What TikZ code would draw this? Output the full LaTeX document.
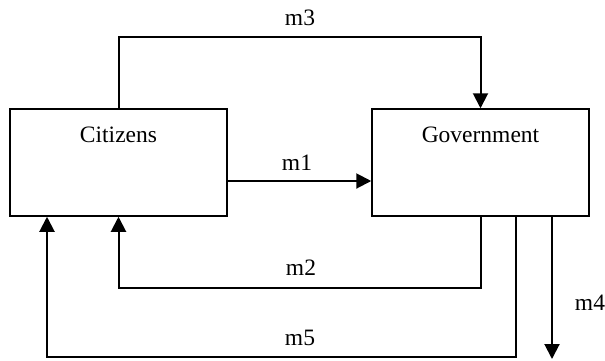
\documentclass[tikz,border=0pt]{standalone}
\usepackage{fontspec}
\setmainfont{Liberation Serif}
\usetikzlibrary{arrows.meta,calc}
\begin{document}
\begin{tikzpicture}[x=1pt,y=-1pt,
  box/.style={draw,line width=1.5pt,minimum width=217pt,minimum height=107pt,inner sep=0pt},
  txt/.style={font=\fontsize{23.5}{26}\selectfont,inner sep=0pt},
  flow/.style={line width=2pt,-{Triangle[length=15pt,width=15pt]}},
  plain/.style={line width=2pt}]
\useasboundingbox (0,0) rectangle (605,360);
\node[box] (cit) at (118.5,162.5) {};
\node[box] (gov) at (480.5,162.5) {};
\node[txt] (citT) at (118.5,135) {Citizens};
\node[txt] (govT) at (480.5,135) {Government};
% m1
\coordinate (m1a) at (cit.east |- 0,181);
\coordinate (m1b) at (gov.west |- 0,181);
\draw[flow] (m1a) -- (m1b);
\node[txt] (l1) at (297,163) {m1};
% m3
\draw[flow] (cit.north) |- (300,37) -| (gov.north);
\node[txt] (l3) at (300,18) {m3};
% m2
\draw[flow] (gov.south) |- (300,288) -| (cit.south);
\node[txt] (l2) at (301,268) {m2};
% m5
\coordinate (m5a) at (gov.south -| 516,0);
\coordinate (m5b) at (cit.south -| 47,0);
\draw[flow] (m5a) |- (300,357) -| (m5b);
\node[txt] (l5) at (300,338) {m5};
% m4
\coordinate (m4a) at (gov.south -| 552,0);
\coordinate (m4b) at (552,359);
\draw[flow] (m4a) -- (m4b);
\node[txt] (l4) at (590,303) {m4};
\end{tikzpicture}
\end{document}
